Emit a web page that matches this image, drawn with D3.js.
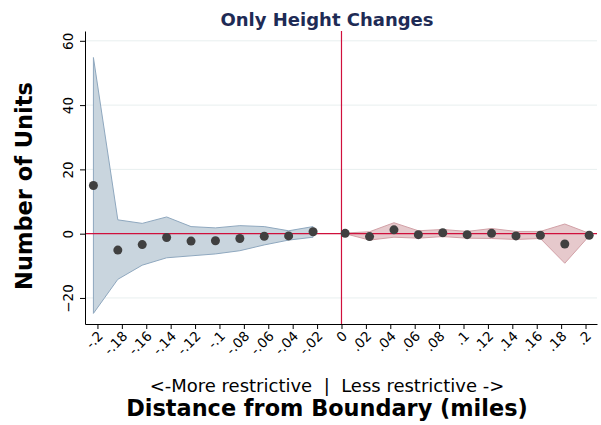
<!DOCTYPE html>
<html>
<head>
    <meta charset="utf-8">
    <script src="https://d3js.org/d3.v7.min.js"></script>
    <style>
        body { margin: 0; background: #fff; }
        text { font-family: "DejaVu Sans", sans-serif; }
        .band-left { fill: #c9d5de; stroke: #8fa8bf; stroke-width: 1; }
        .band-right { fill: #e6c9cc; stroke: #d2a1a7; stroke-width: 1; }
        .dot { fill: #404040; }
        .grid line { stroke: #e8efef; stroke-width: 1; }
    </style>
</head>
<body>
    <svg width="601" height="425"></svg>
    <script>
        // tick labels on the x axis
        const xTicks = [-0.2, -0.18, -0.16, -0.14, -0.12, -0.1, -0.08, -0.06, -0.04, -0.02,
                        0, 0.02, 0.04, 0.06, 0.08, 0.1, 0.12, 0.14, 0.16, 0.18, 0.2];
        const yTicks = [-20, 0, 20, 40, 60];

        // more restrictive side (plotted slightly left of the bin tick)
        const leftDist  = [-0.2033, -0.1833, -0.1633, -0.1433, -0.1233, -0.1033, -0.0833, -0.0633, -0.0433, -0.0233];
        const leftEst   = [15.0, -5.1, -3.4, -1.2, -2.3, -2.2, -1.5, -0.8, -0.7, 0.6];
        const leftHigh  = [54.8, 4.3, 3.2, 5.2, 2.2, 1.8, 2.5, 2.2, 0.9, 2.2];
        const leftLow   = [-24.8, -14.2, -9.8, -7.5, -6.9, -6.3, -5.3, -3.5, -2.0, -1.1];

        // less restrictive side (plotted slightly right of the bin tick)
        const rightDist = [0.003, 0.023, 0.043, 0.063, 0.083, 0.103, 0.123, 0.143, 0.163, 0.183, 0.203];
        const rightEst  = [0.1, -0.9, 1.2, -0.3, 0.3, -0.3, 0.1, -0.7, -0.5, -3.2, -0.5];
        const rightHigh = [0.2, 0.6, 3.4, 0.9, 1.3, 0.7, 1.6, 0.7, 0.7, 3.0, 0.1];
        const rightLow  = [0.0, -2.0, -1.1, -1.4, -0.9, -1.4, -1.5, -1.8, -1.5, -9.2, -0.7];

        const svg = d3.select('svg');
        const plot = {left: 85, right: 597, top: 31, bottom: 324};
        const refColor = '#d0103c';

        const x = d3.scaleLinear().domain([-0.2102, 0.2094]).range([plot.left, plot.right]);
        const y = d3.scaleLinear().domain([-28.1, 63.05]).range([plot.bottom, plot.top]);

        // stata style labels: -.18, .02, 0
        const fmt = d => d === 0 ? '0' : (d < 0 ? '-' : '') + d3.format('.2~f')(Math.abs(d)).replace(/^0/, '');

        // gridlines
        svg.append('g').attr('class', 'grid')
            .selectAll('line').data(yTicks).enter().append('line')
            .attr('x1', plot.left).attr('x2', plot.right)
            .attr('y1', d => y(d)).attr('y2', d => y(d));

        const leftData = leftDist.map((d, i) => ({x: d, est: leftEst[i], hi: leftHigh[i], lo: leftLow[i]}));
        const rightData = rightDist.map((d, i) => ({x: d, est: rightEst[i], hi: rightHigh[i], lo: rightLow[i]}));

        const area = d3.area()
            .x(d => x(d.x))
            .y0(d => y(d.lo))
            .y1(d => y(d.hi));

        svg.append('path').datum(leftData).attr('class', 'band-left').attr('d', area);
        svg.append('path').datum(rightData).attr('class', 'band-right').attr('d', area);

        // axes
        const xAxis = svg.append('g')
            .attr('transform', `translate(0,${plot.bottom})`)
            .call(d3.axisBottom(x).tickValues(xTicks).tickFormat(fmt).tickSize(5).tickSizeOuter(0));
        xAxis.select('.domain').attr('stroke', '#000');
        xAxis.selectAll('.tick line').attr('stroke', '#000');
        xAxis.selectAll('.tick text')
            .attr('font-size', 13.5).attr('fill', '#000')
            .attr('text-anchor', 'end')
            .attr('dy', 0).attr('y', 0)
            .attr('transform', 'translate(6,13) rotate(-45)');

        const yAxis = svg.append('g')
            .attr('transform', `translate(${plot.left},0)`)
            .call(d3.axisLeft(y).tickValues(yTicks).tickSize(5).tickSizeOuter(0));
        yAxis.select('.domain').attr('stroke', '#000');
        yAxis.selectAll('.tick text')
            .attr('font-size', 13.5).attr('fill', '#000')
            .attr('text-anchor', 'middle')
            .attr('x', 0).attr('dy', 0)
            .attr('transform', 'translate(-12.5,0) rotate(-90)');

        // reference lines at zero, drawn over the bands
        svg.append('line')
            .attr('stroke', refColor).attr('stroke-width', 1.2)
            .attr('x1', plot.left + 1).attr('x2', plot.right).attr('y1', y(0)).attr('y2', y(0));
        svg.append('line')
            .attr('stroke', refColor).attr('stroke-width', 1.2)
            .attr('x1', x(0)).attr('x2', x(0)).attr('y1', plot.top).attr('y2', plot.bottom);

        // points
        svg.selectAll('.dot').data(leftData.concat(rightData)).enter()
            .append('circle').attr('class', 'dot')
            .attr('cx', d => x(d.x)).attr('cy', d => y(d.est)).attr('r', 4.5);

        // titles
        svg.append('text').attr('x', 327).attr('y', 26)
            .attr('text-anchor', 'middle').attr('font-size', 18).attr('font-weight', 'bold')
            .attr('fill', '#1e2b55').text('Only Height Changes');

        svg.append('text')
            .attr('transform', 'translate(32,186) rotate(-90)')
            .attr('text-anchor', 'middle').attr('font-size', 22.5).attr('font-weight', 'bold')
            .text('Number of Units');

        svg.append('text').attr('x', 327).attr('y', 392)
            .attr('text-anchor', 'middle').attr('font-size', 18)
            .style('white-space', 'pre')
            .text('<-More restrictive  |  Less restrictive ->');

        svg.append('text').attr('x', 327).attr('y', 416)
            .attr('text-anchor', 'middle').attr('font-size', 22.4).attr('font-weight', 'bold')
            .text('Distance from Boundary (miles)');
    </script>
</body>
</html>
